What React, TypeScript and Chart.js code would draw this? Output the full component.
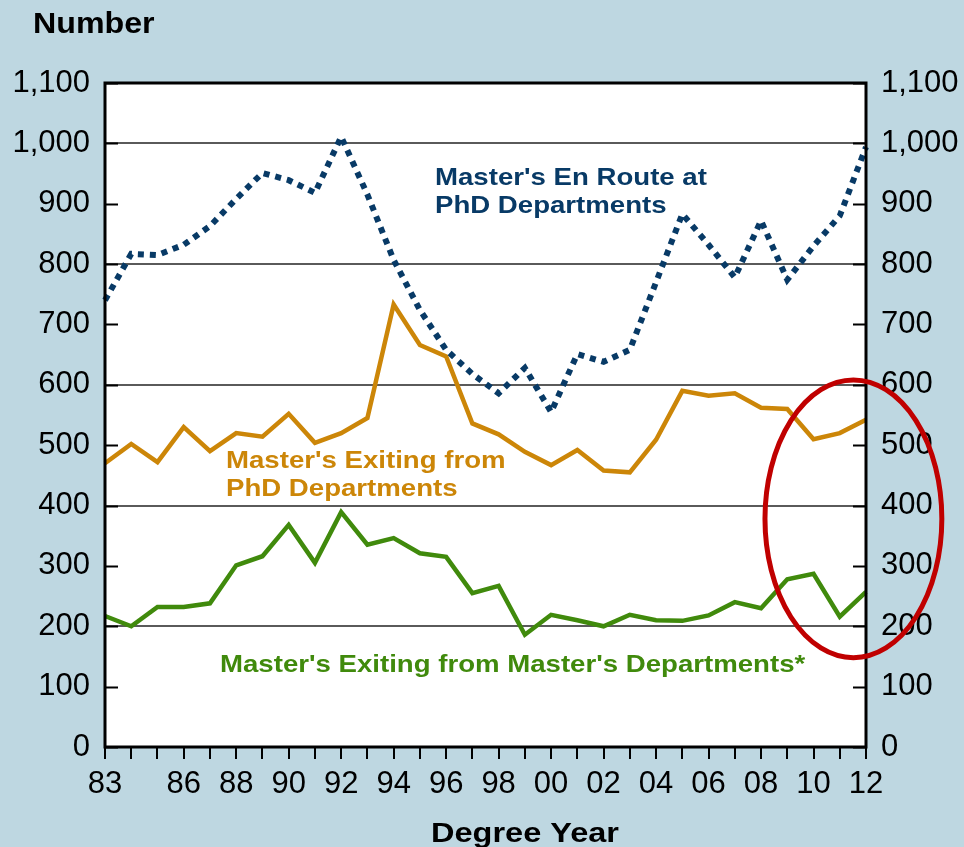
import React, { useEffect, useRef } from 'react';
import { Chart, registerables } from 'chart.js';

Chart.register(...registerables);

// ---- Data ----
const years = ['83','84','85','86','87','88','89','90','91','92','93','94','95','96','97','98','99','00','01','02','03','04','05','06','07','08','09','10','11','12'];
const enRoute = [740,817,815,832,863,908,951,939,918,1011,915,807,724,658,618,586,628,555,651,638,658,770,883,832,778,872,774,830,880,994];
const exitingPhd = [470,502,472,530,490,520,514,552,504,520,545,733,666,647,536,518,489,467,492,458,455,509,590,582,586,562,560,510,520,542];
const exitingMasters = [217,200,232,232,238,301,316,368,305,389,335,346,321,315,255,267,186,219,210,200,219,210,209,218,240,230,278,287,216,257];
const shownYearLabels = ['83','86','88','90','92','94','96','98','00','02','04','06','08','10','12'];
const yMin = 0;
const yMax = 1100;
const yStep = 100;
const gridValues = [200, 400, 600, 800, 1000];

const enRouteLabel = ["Master's En Route at", 'PhD Departments'];
const phdLabel = ["Master's Exiting from", 'PhD Departments'];
const mastersLabel = ["Master's Exiting from Master's Departments*"];
const yTitle = 'Number';
const xTitle = 'Degree Year';

// ---- Styles ----
const BG = '#bed7e1';
const BLUE = '#083a66';
const ORANGE = '#cc8608';
const GREEN = '#408a0c';
const RED = '#c00000';
const FONT = '"Liberation Sans", Arial, Helvetica, sans-serif';

const fmt = (v: number) =>
  v >= 1000 ? Math.floor(v / 1000) + ',' + String(v % 1000).padStart(3, '0') : String(v);

function drawText(ctx: CanvasRenderingContext2D, text: string, x: number, y: number, size: number, color: string, stretch: number, align: CanvasTextAlign = 'left') {
  ctx.save();
  ctx.font = `bold ${size}px ${FONT}`;
  ctx.fillStyle = color;
  ctx.textAlign = align;
  ctx.textBaseline = 'alphabetic';
  ctx.translate(x, y);
  ctx.scale(stretch, 1);
  ctx.fillText(text, 0, 0);
  ctx.restore();
}

export default function App() {
  const ref = useRef<HTMLCanvasElement>(null);

  useEffect(() => {
    document.body.style.margin = '0';
    const canvas = ref.current!;

    const decor = {
      id: 'decor',
      beforeDraw(chart: any) {
        const { ctx, chartArea: a, width, height } = chart;
        ctx.save();
        ctx.fillStyle = BG;
        ctx.fillRect(0, 0, width, height);
        ctx.fillStyle = '#ffffff';
        ctx.fillRect(a.left, a.top, a.right - a.left, a.bottom - a.top);
        ctx.restore();
      },
      afterDraw(chart: any) {
        const { ctx, chartArea: a } = chart;
        const ys = chart.scales.y;
        const xs = chart.scales.x;
        ctx.save();
        // inward y ticks
        ctx.strokeStyle = '#000';
        ctx.lineWidth = 2;
        for (let v = yMin; v <= yMax; v += yStep) {
          const py = Math.round(ys.getPixelForValue(v)) + 0.5;
          ctx.beginPath();
          ctx.moveTo(a.left, py);
          ctx.lineTo(a.left + 13, py);
          ctx.moveTo(a.right - 13, py);
          ctx.lineTo(a.right, py);
          ctx.stroke();
        }
        // frame
        ctx.lineWidth = 3;
        ctx.strokeRect(a.left, a.top, a.right - a.left, a.bottom - a.top);
        ctx.restore();

        // labels
        drawText(ctx, enRouteLabel[0], 435, 185, 24, BLUE, 1.15);
        drawText(ctx, enRouteLabel[1], 435, 213, 24, BLUE, 1.15);
        drawText(ctx, phdLabel[0], 226, 468, 24, ORANGE, 1.15);
        drawText(ctx, phdLabel[1], 226, 496, 24, ORANGE, 1.15);
        drawText(ctx, mastersLabel[0], 220, 672, 24, GREEN, 1.15);
        drawText(ctx, yTitle, 33, 33, 29, '#000', 1.11);
        drawText(ctx, xTitle, 525, 842, 28, '#000', 1.16, 'center');

        // highlight ellipse (annotation anchored in data space)
        const cx = xs.getPixelForValue(28.52);
        const rx = xs.getPixelForValue(28.52 + 3.37) - cx;
        const cy = ys.getPixelForValue(378);
        const ry = ys.getPixelForValue(378 - 230) - cy;
        ctx.save();
        ctx.strokeStyle = RED;
        ctx.lineWidth = 5;
        ctx.beginPath();
        ctx.ellipse(cx, cy, Math.abs(rx), Math.abs(ry), 0, 0, Math.PI * 2);
        ctx.stroke();
        ctx.restore();
      },
    };

    const tickFont = { family: FONT, size: 31 };

    const chart = new Chart(canvas, {
      type: 'line',
      data: {
        labels: years,
        datasets: [
          {
            label: 'En Route',
            data: enRoute,
            borderColor: BLUE,
            borderWidth: 6,
            borderDash: [6, 6],
            borderCapStyle: 'butt',
            pointRadius: 0,
            tension: 0,
            fill: false,
          },
          {
            label: 'Exiting PhD',
            data: exitingPhd,
            borderColor: ORANGE,
            borderWidth: 4.5,
            pointRadius: 0,
            tension: 0,
            fill: false,
          },
          {
            label: 'Exiting Masters',
            data: exitingMasters,
            borderColor: GREEN,
            borderWidth: 4.5,
            pointRadius: 0,
            tension: 0,
            fill: false,
          },
        ],
      },
      options: {
        animation: false,
        responsive: true,
        maintainAspectRatio: false,
        layout: { padding: { top: 83, left: 0, right: 0, bottom: 0 } },
        plugins: { legend: { display: false }, tooltip: { enabled: false }, title: { display: false } },
        scales: {
          x: {
            type: 'category',
            offset: false,
            border: { display: false },
            grid: {
              drawOnChartArea: false,
              drawTicks: true,
              tickLength: 12,
              color: '#000',
              lineWidth: 2,
            },
            ticks: {
              autoSkip: false,
              maxRotation: 0,
              minRotation: 0,
              padding: 7,
              color: '#000',
              font: tickFont,
              callback: function (this: any, _v: any, i: number) {
                const l = years[i];
                return shownYearLabels.includes(l) ? l : '';
              },
            },
            afterFit(scale: any) {
              scale.height = 100;
            },
          },
          y: {
            position: 'left',
            min: yMin,
            max: yMax,
            border: { display: false },
            grid: {
              drawTicks: false,
              lineWidth: 2,
              color: (c: any) => (gridValues.includes(c.tick?.value) ? '#5a5a5a' : 'rgba(0,0,0,0)'),
            },
            ticks: {
              stepSize: yStep,
              padding: 15,
              color: '#000',
              font: tickFont,
              callback: (v: any) => fmt(Number(v)),
            },
            afterFit(scale: any) {
              scale.width = 105;
            },
          },
          y2: {
            position: 'right',
            min: yMin,
            max: yMax,
            border: { display: false },
            grid: { display: false, drawTicks: false },
            ticks: {
              stepSize: yStep,
              padding: 15,
              color: '#000',
              font: tickFont,
              callback: (v: any) => fmt(Number(v)),
            },
            afterFit(scale: any) {
              scale.width = 98;
            },
          },
        },
      },
      plugins: [decor],
    } as any);

    return () => chart.destroy();
  }, []);

  return (
    <div style={{ position: 'fixed', left: 0, top: 0, width: 964, height: 847 }}>
      <canvas ref={ref} />
    </div>
  );
}
